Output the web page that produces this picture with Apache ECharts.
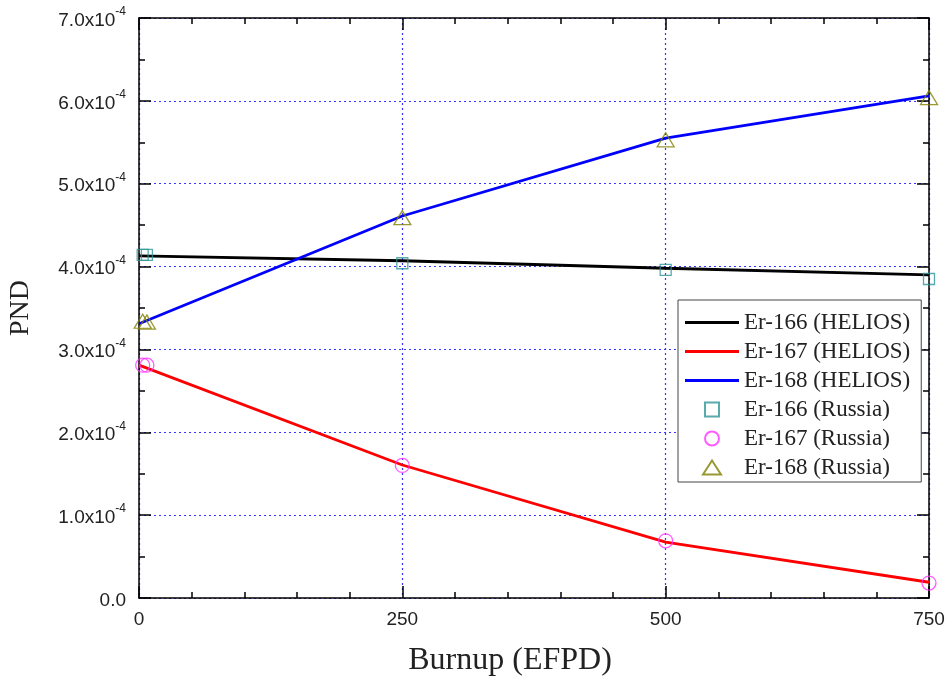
<!DOCTYPE html>
<html>
<head>
<meta charset="utf-8">
<script src="https://cdn.jsdelivr.net/npm/echarts@6/dist/echarts.min.js"></script>
<style>
  html, body { margin: 0; padding: 0; background: #fff; }
  #chart { width: 948px; height: 679px; }
</style>
</head>
<body>
<div id="chart"></div>
<script>
// HELIOS calculation (lines)
const burnup = [0, 250, 500, 750];
const helios166 = [4.13e-4, 4.07e-4, 3.98e-4, 3.90e-4];
const helios167 = [2.81e-4, 1.605e-4, 0.675e-4, 0.19e-4];
const helios168 = [3.31e-4, 4.61e-4, 5.55e-4, 6.06e-4];

// Russian reference results (markers)
const russiaBurnup = [3.5, 7.5, 250, 500, 750];
const russia166 = [4.14e-4, 4.14e-4, 4.04e-4, 3.96e-4, 3.85e-4];
const russia167 = [2.81e-4, 2.81e-4, 1.60e-4, 0.69e-4, 0.18e-4];
const russia168 = [3.34e-4, 3.33e-4, 4.59e-4, 5.53e-4, 6.04e-4];

const xTicks = [0, 250, 500, 750];
const yTickMantissa = ["0.0", "1.0", "2.0", "3.0", "4.0", "5.0", "6.0", "7.0"];

const zip = (xs, ys) => xs.map((x, i) => [x, ys[i]]);

const gridLine = {
  show: true,
  lineStyle: { color: "#3535ff", width: 1.2, type: [2, 3] },
};

function lineSeries(name, ys, color) {
  return {
    name: name,
    type: "line",
    data: zip(burnup, ys),
    symbol: "none",
    lineStyle: { color: color, width: 2.8 },
    itemStyle: { color: color },
    z: 3,
  };
}

function markSeries(name, ys, symbol, size, color) {
  return {
    name: name,
    type: "scatter",
    data: zip(russiaBurnup, ys),
    symbol: symbol,
    symbolSize: size,
    itemStyle: { color: "rgba(0,0,0,0)", borderColor: color, borderWidth: 1.3 },
    z: 4,
  };
}

const tickStyle = { lineStyle: { color: "#000", width: 1.5 } };
const lineIcon = "path://M0 0H54V3H0Z";

const option = {
  animation: false,
  grid: { left: 139, right: 19, top: 18, bottom: 81, outerBoundsMode: "none" },
  xAxis: [
    {
      type: "value",
      min: 0,
      max: 750,
      interval: 250,
      name: "Burnup (EFPD)",
      nameLocation: "middle",
      nameGap: 47,
      nameTextStyle: { fontFamily: "Liberation Serif", fontSize: 32, color: "#222", padding: [0, 48, 0, 0] },
      axisLine: { show: true, onZero: false, lineStyle: { color: "#000", width: 1.5 } },
      axisTick: { show: true, inside: true, length: 12, ...tickStyle },
      minorTick: { show: true, splitNumber: 5, length: 6, ...tickStyle },
      axisLabel: {
        margin: 12,
        fontFamily: "Liberation Sans",
        fontSize: 19,
        color: "#222",
        formatter: (v) => (xTicks.includes(v) ? String(v) : ""),
      },
      splitLine: gridLine,
    },
    {
      type: "value",
      position: "top",
      min: 0,
      max: 750,
      interval: 250,
      axisLine: { show: true, onZero: false, lineStyle: { color: "#000", width: 1.5 } },
      axisTick: { show: true, inside: true, length: 12, ...tickStyle },
      minorTick: { show: true, splitNumber: 5, length: 6, ...tickStyle },
      axisLabel: { show: false },
      splitLine: { show: false },
    },
  ],
  yAxis: [
    {
      type: "value",
      min: 0,
      max: 7e-4,
      interval: 1e-4,
      name: "PND",
      nameLocation: "middle",
      nameGap: 104,
      nameTextStyle: { fontFamily: "Liberation Serif", fontSize: 28, color: "#222" },
      axisLine: { show: true, onZero: false, lineStyle: { color: "#000", width: 1.5 } },
      axisTick: { show: true, inside: true, length: 12, ...tickStyle },
      minorTick: { show: true, splitNumber: 2, length: 6, ...tickStyle },
      axisLabel: {
        margin: 13,
        formatter: (v) => {
          const i = Math.round(v * 1e4);
          const m = yTickMantissa[i];
          return i === 0 ? "{a|" + m + "}" : "{a|" + m + "x10}{s|-4}";
        },
        rich: {
          a: { fontFamily: "Liberation Sans", fontSize: 19, color: "#222", lineHeight: 24, verticalAlign: "bottom" },
          s: { fontFamily: "Liberation Sans", fontSize: 12, color: "#222", lineHeight: 24, verticalAlign: "top" },
        },
      },
      splitLine: gridLine,
    },
    {
      type: "value",
      position: "right",
      min: 0,
      max: 7e-4,
      interval: 1e-4,
      axisLine: { show: true, onZero: false, lineStyle: { color: "#000", width: 1.5 } },
      axisTick: { show: true, inside: true, length: 12, ...tickStyle },
      minorTick: { show: true, splitNumber: 2, length: 6, ...tickStyle },
      axisLabel: { show: false },
      splitLine: { show: false },
    },
  ],
  legend: {
    orient: "vertical",
    left: 678,
    top: 300,
    padding: [11, 11, 3, 7],
    backgroundColor: "#fff",
    borderColor: "#444",
    borderWidth: 1,
    itemWidth: 54,
    itemHeight: 14,
    itemGap: 6,
    textStyle: { fontFamily: "Liberation Serif", fontSize: 23, color: "#222", lineHeight: 23 },
    data: [
      { name: "Er-166 (HELIOS)", icon: lineIcon },
      { name: "Er-167 (HELIOS)", icon: lineIcon },
      { name: "Er-168 (HELIOS)", icon: lineIcon },
      { name: "Er-166 (Russia)", icon: "path://M0 0H10V10H0Z" },
      { name: "Er-167 (Russia)", icon: "circle" },
      { name: "Er-168 (Russia)", icon: "path://M9 0L18 14H0Z" },
    ],
  },
  series: [
    lineSeries("Er-166 (HELIOS)", helios166, "#000000"),
    lineSeries("Er-167 (HELIOS)", helios167, "#ff0000"),
    lineSeries("Er-168 (HELIOS)", helios168, "#0000ff"),
    markSeries("Er-166 (Russia)", russia166, "rect", 11, "#2f9595"),
    markSeries("Er-167 (Russia)", russia167, "circle", 14, "#ff33ff"),
    markSeries("Er-168 (Russia)", russia168, "triangle", [17, 14], "#808000"),
  ],
};

const myChart = echarts.init(document.getElementById("chart"));
myChart.setOption(option);
</script>
</body>
</html>
